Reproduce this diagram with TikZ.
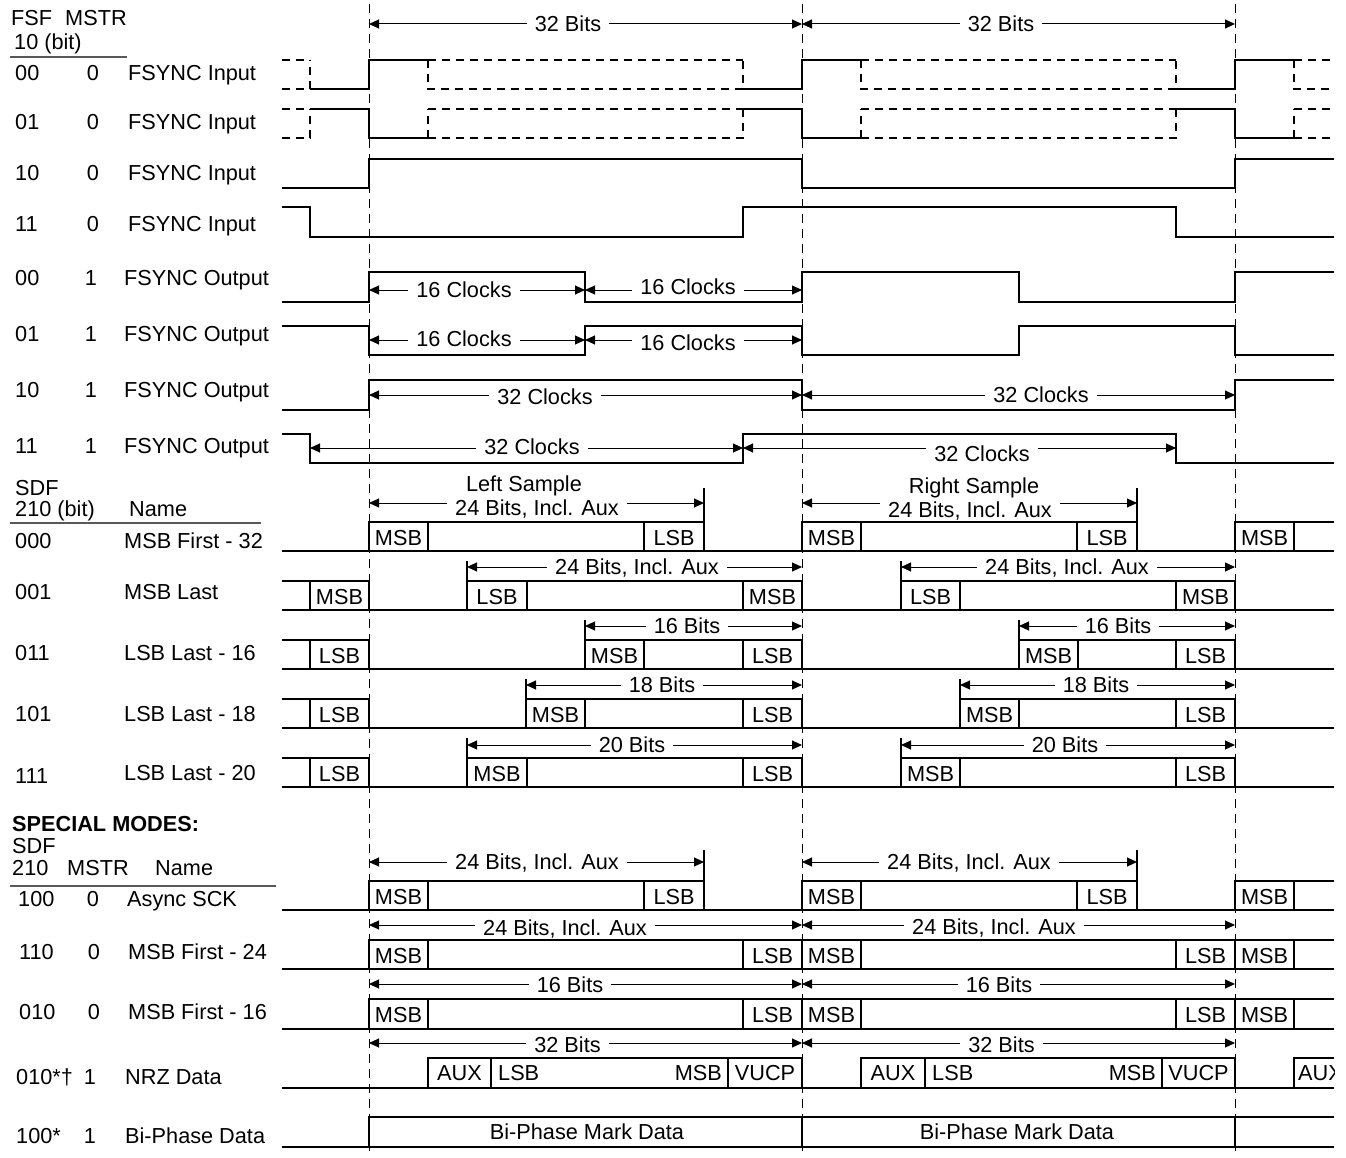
\documentclass[tikz,border=0pt]{standalone}
\usepackage{fontspec}
\setmainfont{Liberation Sans}
\usetikzlibrary{arrows.meta}
\newcount\nidx
\newcommand{\lab}[4][lt]{\global\advance\nidx by 1\relax\node[#1] (n\the\nidx) at (#2,#3) {#4};}
\newcommand{\dimar}[6]{\draw[dimline] (#1,#3) -- (#2,#3);\lab[dl]{#4}{#5}{#6}}
\newcommand{\vd}[3]{\draw[sig] (#1,#2) -- (#1,#3);}
\newcommand{\bx}[4]{\draw[sig] (#1,#4) -- (#1,#3) -- (#2,#3) -- (#2,#4);}
\newcommand{\lpart}[2]{\draw[sig] (282,#1) -- (369,#1) -- (369,#2);\draw[sig] (310,#1) -- (310,#2);}
\begin{document}
\begin{tikzpicture}[x=1pt,y=-1pt,
  sig/.style={line width=1.1pt},
  sigd/.style={line width=1.1pt, dash pattern=on 8pt off 6pt},
  guide/.style={line width=1pt, dash pattern=on 9pt off 6pt},
  dimline/.style={line width=1pt, {Triangle[length=10pt,width=9pt]}-{Triangle[length=10pt,width=9pt]}},
  hrule/.style={line width=1.4pt, black!65},
  txt/.style={inner sep=0pt, text height=15.4pt, text depth=0pt, font=\fontsize{21.7}{24}\selectfont},
  lt/.style={txt, anchor=west},
  rt/.style={txt, anchor=east},
  ct/.style={txt, anchor=center},
  dl/.style={txt, anchor=center, fill=white, inner xsep=8pt, inner ysep=0pt},
]
\useasboundingbox (0,0) rectangle (1346,1158);
\fill[white] (0,0) rectangle (1346,1158);
% guides
\foreach \gx in {369,802,1235} {\draw[guide] (\gx,4) -- (\gx,1151);}

% ---------- header ----------
\lab{11}{18}{FSF}
\lab{65}{18}{MSTR}
\lab{14}{42}{10 (bit)}
\draw[hrule] (10,57) -- (127,57);

\lab{15}{73}{00}\lab[ct]{93}{73}{0}\lab{128}{73}{FSYNC Input}
\lab{15}{122}{01}\lab[ct]{93}{122}{0}\lab{128}{122}{FSYNC Input}
\lab{15}{173}{10}\lab[ct]{93}{173}{0}\lab{128}{173}{FSYNC Input}
\lab{15}{224}{11}\lab[ct]{93}{224}{0}\lab{128}{224}{FSYNC Input}
\lab{15}{278}{00}\lab[ct]{91}{278}{1}\lab{124}{278}{FSYNC Output}
\lab{15}{334}{01}\lab[ct]{91}{334}{1}\lab{124}{334}{FSYNC Output}
\lab{15}{390}{10}\lab[ct]{91}{390}{1}\lab{124}{390}{FSYNC Output}
\lab{15}{446}{11}\lab[ct]{91}{446}{1}\lab{124}{446}{FSYNC Output}

% top dimension
\dimar{369}{802}{24}{568}{24}{32 Bits}
\dimar{802}{1235}{24}{1001}{24}{32 Bits}

% ---------- row 1 (00 0) ----------
\draw[sigd] (282,60) -- (310,60);
\draw[sigd] (282,89) -- (310,89) -- (310,60);
\draw[sig] (310,89) -- (369,89) -- (369,60) -- (428,60);
\draw[sigd] (428,60) -- (743,60);
\draw[sigd] (428,60) -- (428,89) -- (743,89) -- (743,60);
\draw[sig] (743,89) -- (802,89) -- (802,60) -- (861,60);
\draw[sigd] (861,60) -- (1176,60);
\draw[sigd] (861,60) -- (861,89) -- (1176,89) -- (1176,60);
\draw[sig] (1176,89) -- (1235,89) -- (1235,60) -- (1294,60);
\draw[sigd] (1294,60) -- (1334,60);
\draw[sigd] (1294,60) -- (1294,89) -- (1334,89);

% ---------- row 2 (01 0) ----------
\draw[sigd] (282,109) -- (310,109);
\draw[sigd] (282,138) -- (310,138) -- (310,109);
\draw[sig] (310,109) -- (369,109) -- (369,138) -- (428,138);
\draw[sigd] (428,109) -- (743,109);
\draw[sigd] (428,138) -- (428,109);
\draw[sigd] (428,138) -- (743,138) -- (743,109);
\draw[sig] (743,109) -- (802,109) -- (802,138) -- (861,138);
\draw[sigd] (861,109) -- (1176,109);
\draw[sigd] (861,138) -- (861,109);
\draw[sigd] (861,138) -- (1176,138) -- (1176,109);
\draw[sig] (1176,109) -- (1235,109) -- (1235,138) -- (1294,138);
\draw[sigd] (1294,109) -- (1334,109);
\draw[sigd] (1294,138) -- (1294,109);
\draw[sigd] (1294,138) -- (1334,138);

% ---------- row 3 (10 0) ----------
\draw[sig] (282,188) -- (369,188) -- (369,159) -- (802,159) -- (802,188) -- (1235,188) -- (1235,159) -- (1334,159);
% ---------- row 4 (11 0) ----------
\draw[sig] (282,207) -- (310,207) -- (310,237) -- (743,237) -- (743,207) -- (1176,207) -- (1176,237) -- (1334,237);

% ---------- row 5 (00 1) ----------
\draw[sig] (282,302) -- (369,302) -- (369,272) -- (585,272) -- (585,302) -- (802,302) -- (802,272) -- (1019,272) -- (1019,302) -- (1235,302) -- (1235,272) -- (1334,272);
\dimar{369}{585}{290}{464}{290}{16 Clocks}
\dimar{585}{802}{290}{688}{287}{16 Clocks}
% ---------- row 6 (01 1) ----------
\draw[sig] (282,326) -- (369,326) -- (369,355) -- (585,355) -- (585,326) -- (802,326) -- (802,355) -- (1019,355) -- (1019,326) -- (1235,326) -- (1235,355) -- (1334,355);
\dimar{369}{585}{340}{464}{339}{16 Clocks}
\dimar{585}{802}{340}{688}{343}{16 Clocks}
% ---------- row 7 (10 1) ----------
\draw[sig] (282,410) -- (369,410) -- (369,380) -- (802,380) -- (802,410) -- (1235,410) -- (1235,380) -- (1334,380);
\dimar{369}{802}{395}{545}{397}{32 Clocks}
\dimar{802}{1235}{395}{1041}{395}{32 Clocks}
% ---------- row 8 (11 1) ----------
\draw[sig] (282,434) -- (310,434) -- (310,463) -- (743,463) -- (743,434) -- (1176,434) -- (1176,463) -- (1334,463);
\dimar{310}{743}{448}{532}{447}{32 Clocks}
\dimar{743}{1176}{448}{982}{454}{32 Clocks}

% ---------- SDF section ----------
\lab{15}{488}{SDF}
\lab{15}{509}{210 (bit)}
\lab{129}{509}{Name}
\draw[hrule] (10,523) -- (261,523);
\lab{15}{541}{000}\lab{124}{541}{MSB First - 32}
\lab{15}{592}{001}\lab{124}{592}{MSB Last}
\lab{15}{653}{011}\lab{124}{653}{LSB Last - 16}
\lab{15}{714}{101}\lab{124}{714}{LSB Last - 18}
\lab{15}{776}{111}\lab{124}{773}{LSB Last - 20}

% row 000
\draw[sig] (282,551) -- (1334,551);
\bx{369}{704}{522}{551}\vd{428}{522}{551}\vd{644}{522}{551}
\lab[ct]{398.5}{537.5}{MSB}\lab[ct]{674}{537.5}{LSB}
\draw[sig] (704,488) -- (704,522);
\bx{802}{1137}{522}{551}\vd{861}{522}{551}\vd{1077}{522}{551}
\lab[ct]{831.5}{537.5}{MSB}\lab[ct]{1107}{537.5}{LSB}
\draw[sig] (1137,488) -- (1137,522);
\draw[sig] (1235,551) -- (1235,522) -- (1334,522);\vd{1294}{522}{551}
\lab[ct]{1264.5}{537.5}{MSB}
\lab[ct]{524}{484}{Left Sample}
\dimar{369}{704}{503}{537}{508}{24 Bits, Incl. Aux}
\lab[ct]{974}{486}{Right Sample}
\dimar{802}{1137}{503}{970}{510}{24 Bits, Incl. Aux}

% row 001
\draw[sig] (282,610) -- (1334,610);
\lpart{581}{610}\lab[ct]{339.5}{596.5}{MSB}
\bx{467}{802}{581}{610}\vd{527}{581}{610}\vd{743}{581}{610}
\lab[ct]{497}{596.5}{LSB}\lab[ct]{772.5}{596.5}{MSB}
\draw[sig] (467,561) -- (467,581);
\bx{901}{1235}{581}{610}\vd{960}{581}{610}\vd{1176}{581}{610}
\lab[ct]{930.5}{596.5}{LSB}\lab[ct]{1205.5}{596.5}{MSB}
\draw[sig] (901,561) -- (901,581);
\dimar{467}{802}{567}{637}{567}{24 Bits, Incl. Aux}
\dimar{901}{1235}{567}{1067}{567}{24 Bits, Incl. Aux}

% row 011
\draw[sig] (282,669) -- (1334,669);
\lpart{640}{669}\lab[ct]{339.5}{655.5}{LSB}
\bx{585}{802}{640}{669}\vd{644}{640}{669}\vd{743}{640}{669}
\lab[ct]{614.5}{655.5}{MSB}\lab[ct]{772.5}{655.5}{LSB}
\draw[sig] (585,620) -- (585,640);
\bx{1019}{1235}{640}{669}\vd{1078}{640}{669}\vd{1176}{640}{669}
\lab[ct]{1048.5}{655.5}{MSB}\lab[ct]{1205.5}{655.5}{LSB}
\draw[sig] (1019,620) -- (1019,640);
\dimar{585}{802}{626}{687}{626}{16 Bits}
\dimar{1019}{1235}{626}{1118}{626}{16 Bits}

% row 101
\draw[sig] (282,728) -- (1334,728);
\lpart{699}{728}\lab[ct]{339.5}{714.5}{LSB}
\bx{526}{802}{699}{728}\vd{585}{699}{728}\vd{743}{699}{728}
\lab[ct]{555.5}{714.5}{MSB}\lab[ct]{772.5}{714.5}{LSB}
\draw[sig] (526,679) -- (526,699);
\bx{960}{1235}{699}{728}\vd{1019}{699}{728}\vd{1176}{699}{728}
\lab[ct]{989.5}{714.5}{MSB}\lab[ct]{1205.5}{714.5}{LSB}
\draw[sig] (960,679) -- (960,699);
\dimar{526}{802}{685}{662}{685}{18 Bits}
\dimar{960}{1235}{685}{1096}{685}{18 Bits}

% row 111
\draw[sig] (282,787) -- (1334,787);
\lpart{758}{787}\lab[ct]{339.5}{773.5}{LSB}
\bx{467}{802}{758}{787}\vd{527}{758}{787}\vd{743}{758}{787}
\lab[ct]{497}{773.5}{MSB}\lab[ct]{772.5}{773.5}{LSB}
\draw[sig] (467,738) -- (467,758);
\bx{901}{1235}{758}{787}\vd{960}{758}{787}\vd{1176}{758}{787}
\lab[ct]{930.5}{773.5}{MSB}\lab[ct]{1205.5}{773.5}{LSB}
\draw[sig] (901,738) -- (901,758);
\dimar{467}{802}{745}{632}{745}{20 Bits}
\dimar{901}{1235}{745}{1065}{745}{20 Bits}

% ---------- special modes ----------
\lab{12}{824}{\bfseries SPECIAL MODES:}
\lab{12}{846}{SDF}
\lab{12}{868}{210}\lab{67}{868}{MSTR}\lab{155}{868}{Name}
\draw[hrule] (10,886) -- (276,886);
\lab{18}{899}{100}\lab[ct]{93}{899}{0}\lab{127}{899}{Async SCK}
\lab{19}{952}{110}\lab[ct]{94}{952}{0}\lab{128}{952}{MSB First - 24}
\lab{19}{1012}{010}\lab[ct]{94}{1012}{0}\lab{128}{1012}{MSB First - 16}
\lab{16}{1077}{010*†}\lab[ct]{90}{1077}{1}\lab{125}{1077}{NRZ Data}
\lab{16}{1136}{100*}\lab[ct]{90}{1136}{1}\lab{125}{1136}{Bi-Phase Data}

% 100 0 Async SCK
\draw[sig] (282,910) -- (1334,910);
\bx{369}{704}{881}{910}\vd{428}{881}{910}\vd{644}{881}{910}
\lab[ct]{398.5}{896.5}{MSB}\lab[ct]{674}{896.5}{LSB}
\draw[sig] (704,850) -- (704,881);
\bx{802}{1137}{881}{910}\vd{861}{881}{910}\vd{1077}{881}{910}
\lab[ct]{831.5}{896.5}{MSB}\lab[ct]{1107}{896.5}{LSB}
\draw[sig] (1137,850) -- (1137,881);
\draw[sig] (1235,910) -- (1235,881) -- (1334,881);\vd{1294}{881}{910}
\lab[ct]{1264.5}{896.5}{MSB}
\dimar{369}{704}{862}{537}{862}{24 Bits, Incl. Aux}
\dimar{802}{1137}{862}{969}{862}{24 Bits, Incl. Aux}

% 110 0 MSB First - 24
\draw[sig] (282,969) -- (1334,969);
\draw[sig] (369,969) -- (369,940) -- (1334,940);
\foreach \dx in {428,743,802,861,1176,1235,1294} {\vd{\dx}{940}{969}}
\lab[ct]{398.5}{955.5}{MSB}\lab[ct]{772.5}{955.5}{LSB}\lab[ct]{831.5}{955.5}{MSB}
\lab[ct]{1205.5}{955.5}{LSB}\lab[ct]{1264.5}{955.5}{MSB}
\dimar{369}{802}{925}{565}{928}{24 Bits, Incl. Aux}
\dimar{802}{1235}{925}{994}{927}{24 Bits, Incl. Aux}

% 010 0 MSB First - 16
\draw[sig] (282,1029) -- (1334,1029);
\draw[sig] (369,1029) -- (369,999) -- (1334,999);
\foreach \dx in {428,743,802,861,1176,1235,1294} {\vd{\dx}{999}{1029}}
\lab[ct]{398.5}{1015}{MSB}\lab[ct]{772.5}{1015}{LSB}\lab[ct]{831.5}{1015}{MSB}
\lab[ct]{1205.5}{1015}{LSB}\lab[ct]{1264.5}{1015}{MSB}
\dimar{369}{802}{984}{570}{985}{16 Bits}
\dimar{802}{1235}{984}{999}{985}{16 Bits}

% NRZ data
\draw[sig] (282,1088) -- (1334,1088);
\bx{428}{802}{1058}{1088}\vd{491}{1058}{1088}\vd{728}{1058}{1088}
\lab[ct]{459.5}{1073}{AUX}\lab{498}{1073}{LSB}\lab[rt]{722}{1073}{MSB}\lab[ct]{765}{1073}{VUCP}
\bx{861}{1235}{1058}{1088}\vd{925}{1058}{1088}\vd{1162}{1058}{1088}
\lab[ct]{893}{1073}{AUX}\lab{932}{1073}{LSB}\lab[rt]{1156}{1073}{MSB}\lab[ct]{1198.5}{1073}{VUCP}
\draw[sig] (1294,1088) -- (1294,1058) -- (1334,1058);
\begin{scope}
\clip (1294,1050) rectangle (1334,1095);
\lab{1298}{1073}{AUX}
\end{scope}
\dimar{369}{802}{1043}{567.5}{1045}{32 Bits}
\dimar{802}{1235}{1043}{1001.5}{1045}{32 Bits}

% Bi-phase
\draw[sig] (282,1147) -- (1334,1147);
\draw[sig] (369,1147) -- (369,1117) -- (1334,1117);
\vd{802}{1117}{1147}\vd{1235}{1117}{1147}
\lab[ct]{587}{1132}{Bi-Phase Mark Data}
\lab[ct]{1017}{1132}{Bi-Phase Mark Data}
\end{tikzpicture}
\end{document}
